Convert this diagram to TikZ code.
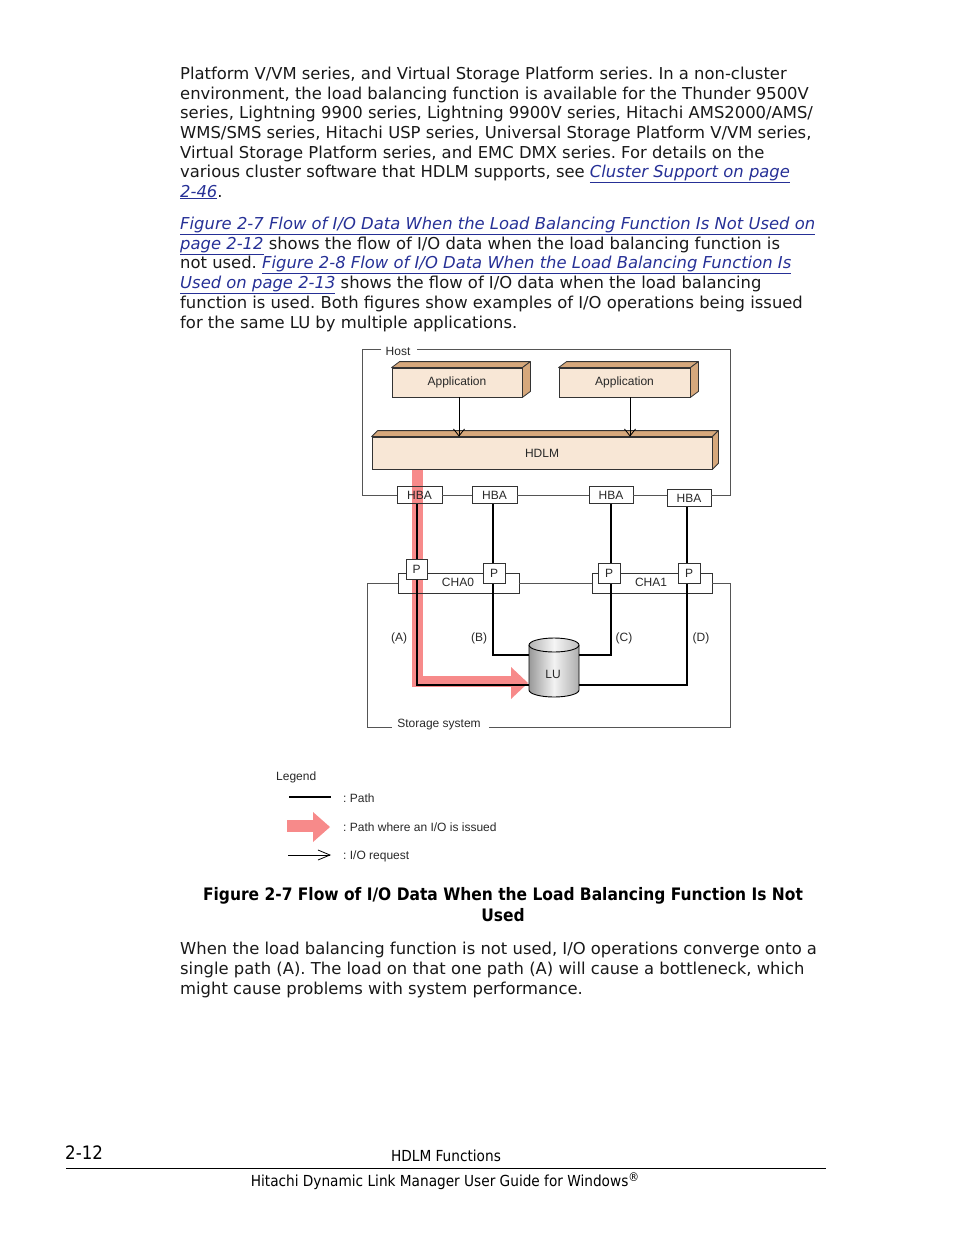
\documentclass[tikz,border=0pt]{standalone}
\usepackage{fontspec}
\setmainfont{DejaVu Sans}
\newfontfamily\diagfont{Liberation Sans}
\newfontfamily\condfont{DejaVu Sans Condensed}
\usetikzlibrary{arrows.meta,shapes.geometric,calc}
\definecolor{linkblue}{RGB}{38,48,150}
\definecolor{boxfront}{RGB}{248,231,214}
\definecolor{boxside}{RGB}{214,168,124}
\definecolor{pinkio}{RGB}{247,138,138}
\definecolor{framegray}{RGB}{85,85,85}
\definecolor{txtgray}{RGB}{40,40,40}
\newcommand\lnk[1]{{\color{linkblue}\itshape\underline{#1}}}
\frenchspacing
\begin{document}
\begin{tikzpicture}[x=1pt,y=-1pt,
  bodyline/.style={anchor=base west,inner sep=0pt,font=\fontsize{16.4}{19}\selectfont,text=black!90},
  captext/.style={anchor=base,inner sep=0pt,font=\condfont\bfseries\fontsize{17.2}{20}\selectfont},
  dlabel/.style={inner sep=0pt,font=\diagfont\fontsize{12}{14}\selectfont,text=txtgray},
  facebox/.style={draw=black!80,fill=boxfront,line width=0.8pt,inner sep=0pt,font=\diagfont\fontsize{12}{14}\selectfont,text=txtgray},
  smallbox/.style={draw=black!80,line width=0.8pt,inner sep=0pt,font=\diagfont\fontsize{12}{14}\selectfont,text=txtgray},
  sidefill/.style={fill=boxside,draw=black!80,line width=0.8pt,line join=round},
  frameline/.style={draw=framegray,line width=0.9pt},
  pathline/.style={draw=black,line width=1.4pt},
  ioreq/.style={draw=black,line width=0.8pt,-{Straight Barb[length=7pt,width=11pt]}},
  pinkband/.style={draw=pinkio,line width=11pt}
]
\useasboundingbox (0,0) rectangle (954,1235);

% ---------- body text ----------
\node[bodyline] (t1) at (180,79) {Platform V/VM series, and Virtual Storage Platform series. In a non-cluster};
\node[bodyline] (t2) at (180,99) {environment, the load balancing function is available for the Thunder 9500V};
\node[bodyline] (t3) at (180,118) {series, Lightning 9900 series, Lightning 9900V series, Hitachi AMS2000/AMS/};
\node[bodyline] (t4) at (180,138) {WMS/SMS series, Hitachi USP series, Universal Storage Platform V/VM series,};
\node[bodyline] (t5) at (180,158) {Virtual Storage Platform series, and EMC DMX series. For details on the};
\node[bodyline] (t6) at (180,177) {various cluster software that HDLM supports, see \lnk{Cluster Support on page}};
\node[bodyline] (t7) at (180,197) {\lnk{2-46}.};

\node[bodyline] (u1) at (180,229) {\lnk{Figure 2-7 Flow of I/O Data When the Load Balancing Function Is Not Used on}};
\node[bodyline] (u2) at (180,249) {\lnk{page 2-12} shows the flow of I/O data when the load balancing function is};
\node[bodyline] (u3) at (180,268) {not used. \lnk{Figure 2-8 Flow of I/O Data When the Load Balancing Function Is}};
\node[bodyline] (u4) at (180,288) {\lnk{Used on page 2-13} shows the flow of I/O data when the load balancing};
\node[bodyline] (u5) at (180,308) {function is used. Both figures show examples of I/O operations being issued};
\node[bodyline] (u6) at (180,328) {for the same LU by multiple applications.};

% ---------- host ----------
\node[dlabel] (hostlbl) at (398,351) {Host};
\node[facebox,minimum width=130pt,minimum height=29pt] (app1) at (457,382.5) {Application};
\node[facebox,minimum width=131pt,minimum height=29pt] (app2) at (624.5,382.5) {Application};
\node[facebox,minimum width=340pt,minimum height=32pt] (hdlm) at (542,453) {HDLM};
\foreach \b/\d in {app1/8,app2/8,hdlm/6}{
  \filldraw[sidefill] (\b.north west) -- ++(\d,-6) -- ($(\b.north east)+(\d,-6)$) -- (\b.north east) -- cycle;
  \filldraw[sidefill] (\b.north east) -- ++(\d,-6) -- ($(\b.south east)+(\d,-6)$) -- (\b.south east) -- cycle;
}
\draw[ioreq] (app1.south -| 459,0) -- (hdlm.north -| 459,0);
\draw[ioreq] (app2.south -| 630,0) -- (hdlm.north -| 630,0);

% pink I/O path (under the HBA/CHA labels)
\draw[pinkband] ([yshift=-0.5pt]hdlm.south -| 417,0) -- (417,681) -- (512,681);
\fill[pinkio] (511,667) -- (528,683) -- (511,699) -- cycle;

\node[smallbox,minimum width=45pt,minimum height=17pt] (hba1) at (419.5,495) {HBA};
\node[smallbox,minimum width=45pt,minimum height=17pt] (hba2) at (494.5,495) {HBA};
\node[smallbox,minimum width=44pt,minimum height=17pt] (hba3) at (611,495) {HBA};
\node[smallbox,minimum width=44pt,minimum height=17pt] (hba4) at (689,498) {HBA};

\draw[frameline] (hostlbl.west) ++(-4,-2) -- (362,349) -- (362,495) -- (hba1.west);
\draw[frameline] (hba1.east) -- (hba2.west);
\draw[frameline] (hba2.east) -- (hba3.west);
\draw[frameline] (hba3.east) -- (hba3.east -| hba4.west);
\draw[frameline] (hba4.east |- hba3.east) -- (730,495) -- (730,349) -- ($(hostlbl.east)+(6,-2)$);

% ---------- storage ----------
\node[smallbox,minimum width=121pt,minimum height=20pt] (cha0) at (458.5,583) {};
\node[smallbox,minimum width=120pt,minimum height=20pt] (cha1) at (652,583) {};
\node[dlabel] at (458,582) {CHA0};
\node[dlabel] at (651,582) {CHA1};
\node[dlabel] (stlbl) at (439,725) {Storage system};
\draw[frameline] (cha0.west) -- (367,583) -- (367,727) -- ($(stlbl.west)+(-5,2)$);
\draw[frameline] ($(stlbl.east)+(8,2)$) -- (730,727) -- (730,583) -- (cha1.east);
\draw[frameline] (cha0.east) -- (cha1.west);

% LU cylinder
\shade[left color=black!40,right color=black!32,middle color=black!5]
  (529,645) -- (529,690) arc[start angle=180,end angle=360,x radius=25pt,y radius=7pt]
  -- (579,645) -- cycle;
\shade[left color=black!30,right color=black!25,middle color=black!4]
  (554,645) ellipse[x radius=25pt,y radius=7pt];
\draw[black,line width=0.9pt]
  (529,645) -- (529,690) arc[start angle=180,end angle=360,x radius=25pt,y radius=7pt]
  -- (579,645);
\draw[black,line width=0.9pt] (554,645) ellipse[x radius=25pt,y radius=7pt];
\node[inner sep=0pt,minimum width=50pt,minimum height=58pt] (lu) at (554,668) {};
\node[dlabel] (lulbl) at (553,674) {LU};

% paths
\draw[pathline] (hba1.south -| 417,0) -- (417,685) -- (lu.west |- 0,685);
\draw[pathline] (hba2.south -| 493,0) -- (493,655) -- (lu.west |- 0,655);
\draw[pathline] (hba3.south -| 611,0) -- (611,655) -- (lu.east |- 0,655);
\draw[pathline] (hba4.south -| 687,0) -- (687,685) -- (lu.east |- 0,685);

\node[smallbox,fill=white,minimum width=21pt,minimum height=20pt] (p1) at (416.5,569) {P};
\node[smallbox,fill=white,minimum width=22pt,minimum height=20pt] (p2) at (494,573) {P};
\node[smallbox,fill=white,minimum width=22pt,minimum height=20pt] (p3) at (609,573) {P};
\node[smallbox,fill=white,minimum width=22pt,minimum height=20pt] (p4) at (689,573) {P};

\node[dlabel] at (399,638) {(A)};
\node[dlabel] at (479,638) {(B)};
\node[dlabel] at (624,638) {(C)};
\node[dlabel] at (701,638) {(D)};

% ---------- legend ----------
\node[dlabel,anchor=west] (leg) at (276,777) {Legend};
\coordinate (l1a) at (289,797); \coordinate (l1b) at (331,797);
\draw[pathline,line width=1.2pt] (l1a) -- (l1b);
\node[dlabel,anchor=west] at (343,798) {: Path};
\coordinate (l2a) at (287,826); \coordinate (l2b) at (314,826);
\draw[pinkband,line width=12pt] (l2a) -- (l2b);
\fill[pinkio] (313,812) -- (330,827) -- (313,842) -- cycle;
\node[dlabel,anchor=west] at (343,827) {: Path where an I/O is issued};
\coordinate (l3a) at (288,855); \coordinate (l3b) at (331,855);
\draw[ioreq,-{Straight Barb[length=12pt,width=10pt]}] (l3a) -- (l3b);
\node[dlabel,anchor=west] at (343,856) {: I/O request};

% ---------- caption and text ----------
\node[captext] (cap1) at (503,900) {Figure 2-7 Flow of I/O Data When the Load Balancing Function Is Not};
\node[captext] (cap2) at (503,921) {Used};

\node[bodyline] (v1) at (180,954) {When the load balancing function is not used, I/O operations converge onto a};
\node[bodyline] (v2) at (180,974) {single path (A). The load on that one path (A) will cause a bottleneck, which};
\node[bodyline] (v3) at (180,994) {might cause problems with system performance.};

% ---------- footer ----------
\node[anchor=base west,inner sep=0pt,font=\condfont\fontsize{18.5}{21}\selectfont] (pg) at (65,1159) {2-12};
\node[anchor=base,inner sep=0pt,font=\condfont\fontsize{15.2}{18}\selectfont] (sec) at (446,1161) {HDLM Functions};
\coordinate (r1) at (66,1168); \coordinate (r2) at (826,1168);
\draw[line width=0.8pt] (r1) -- (r2);
\node[anchor=base,inner sep=0pt,font=\condfont\fontsize{15.2}{18}\selectfont] (guide) at (445,1186) {Hitachi Dynamic Link Manager User Guide for Windows{\fontsize{12}{12}\selectfont\raisebox{5pt}{\textregistered}}};
\end{tikzpicture}
\end{document}
